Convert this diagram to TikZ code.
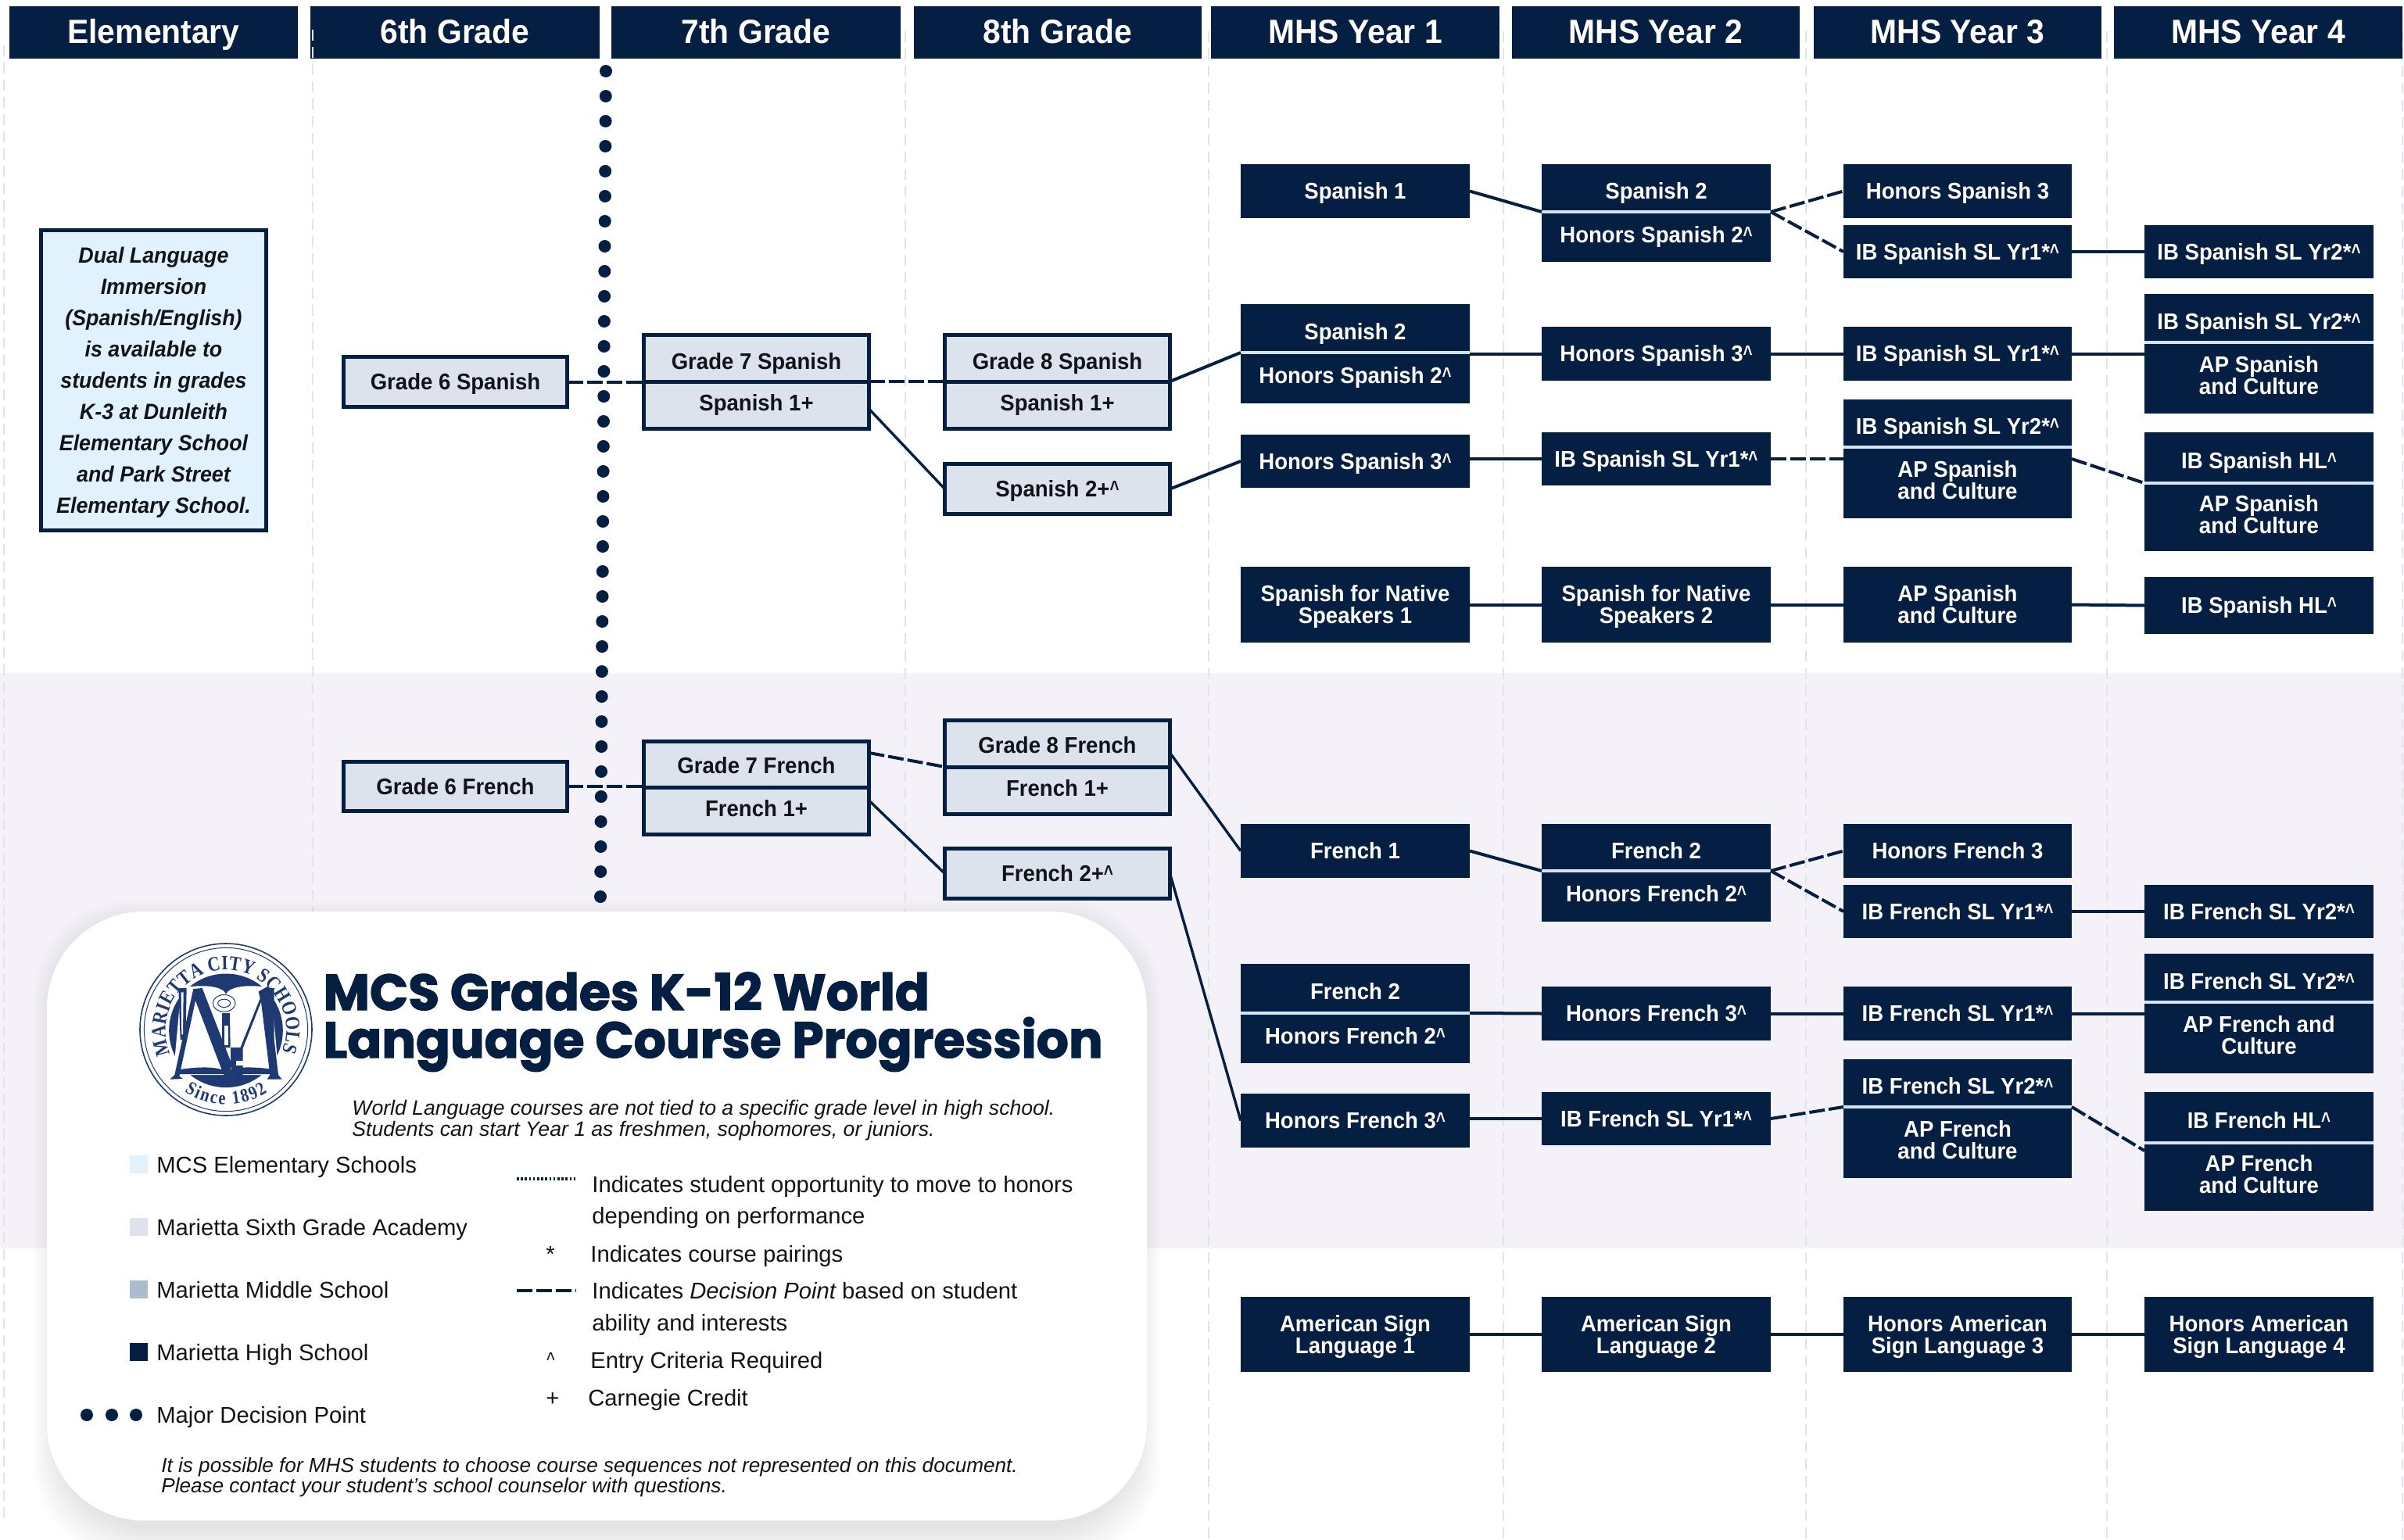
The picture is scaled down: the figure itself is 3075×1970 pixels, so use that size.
\documentclass[tikz,border=0pt]{standalone}
\usepackage{fontspec}
\setmainfont{Liberation Sans}
\newfontfamily\boxfont{Liberation Sans}[FakeStretch=0.95]
\newfontfamily\legfont{Liberation Sans}
\newfontfamily\titlefont{Poppins}[FakeBold=2]
\newfontfamily\sealfont{Liberation Serif}[FakeStretch=0.85]
\usetikzlibrary{decorations.text,calc}
\definecolor{navy}{HTML}{041F42}
\definecolor{band}{HTML}{F4F1F8}
\definecolor{gridc}{HTML}{DFE4EF}
\definecolor{lightbox}{HTML}{DCE3ED}
\definecolor{elembox}{HTML}{E1F1FE}
\definecolor{midbox}{HTML}{ADBCCD}
\definecolor{divc}{HTML}{D3E4F5}
\definecolor{seal}{HTML}{1F3A73}
\definecolor{inkc}{HTML}{111318}
\newdimen\pxunit \pxunit=0.5pt
\newcommand\ca{\raisebox{0.03em}{\scalebox{0.75}[0.95]{\textasciicircum}}}
\newcommand\tl[2][0]{\raisebox{#1\pxunit}[0.711em][0pt]{#2}}
\newcommand\ta[1]{\tl[-4]{#1}}
\newcommand\tb[1]{\tl[3]{#1}}
\newcommand\course[7][coursedark]{%
  \pgfmathsetmacro\cwid{(#5-#3)*0.5}\pgfmathsetmacro\chei{(#6-#4)*0.5}%
  \pgfmathsetmacro\ccx{(#5+#3)/2}\pgfmathsetmacro\ccy{(#6+#4)/2}%
  \node[#1,minimum width=\cwid pt,minimum height=\chei pt] (#2) at (\ccx,\ccy) {#7};}
\newcommand\twopart[8]{%
  \course{#1}{#2}{#4}{#3}{#5}{#7}%
  \course{#1b}{#2}{#5}{#3}{#6}{#8}%
  \draw[divider] (#1.south west) -- (#1.south east);}
\tikzset{
  basebox/.style={inner sep=0pt,outer sep=0pt,align=center},
  coursedark/.style={basebox,fill=navy,text=white,font=\boxfont\bfseries\fontsize{14.5}{14}\selectfont},
  courselight/.style={basebox,fill=lightbox,draw=navy,line width=2.5pt,text=inkc,font=\boxfont\bfseries\fontsize{14.5}{14}\selectfont},
  hdr/.style={basebox,fill=navy,text=white,font=\boxfont\bfseries\fontsize{21.5}{21}\selectfont},
  elem/.style={basebox,fill=elembox,draw=navy,line width=2.5pt,text=inkc,font=\boxfont\bfseries\itshape\fontsize{14.1}{20}\selectfont},
  divider/.style={divc,line width=2pt},
  conn/.style={navy,line width=2pt},
  decision/.style={navy,line width=2pt,dash pattern=on 10pt off 2.5pt},
  gridline/.style={gridc,line width=1pt,dash pattern=on 7pt off 4pt},
  legend/.style={inner sep=0pt,anchor=base west,text=inkc,font=\legfont\fontsize{14.6}{14}\selectfont},
  note/.style={inner sep=0pt,anchor=base west,text=inkc,font=\itshape\fontsize{13.3}{14}\selectfont},
  footnote/.style={note,font=\itshape\fontsize{13.05}{14}\selectfont},
  titletxt/.style={inner sep=0pt,anchor=base west,text=navy,font=\titlefont\bfseries\fontsize{32.4}{30}\selectfont},
  swatch/.style={minimum width=11.5pt,minimum height=11.5pt,inner sep=0pt},
}
\begin{document}
\begin{tikzpicture}[x=0.5pt,y=-0.5pt]
\useasboundingbox (0,0) rectangle (3075,1970);
\fill[white] (0,0) rectangle (3075,1970);
\fill[band] (0,861) rectangle (3075,1597);
% column grid
\draw[gridline] (4.5,58) -- (4.5,1950);
\draw[gridline] (1158,40) -- (1158,1166);
\foreach \gx in {1546,1923,2310,2695,3073}{\draw[gridline] (\gx,40) -- (\gx,1970);}
% major decision dots
\foreach \i in {0,...,33}{\fill[navy] ({775-\i*7/33},{91+\i*32}) circle (4pt);}
% headers
\course[hdr]{h0}{12}{8}{381}{75}{\tl[1.5]{Elementary}}
\course[hdr]{h1}{397}{8}{767}{75}{\tl[1.5]{6th Grade}}
\course[hdr]{h2}{782}{8}{1152}{75}{\tl[1.5]{7th Grade}}
\course[hdr]{h3}{1169}{8}{1537}{75}{\tl[1.5]{8th Grade}}
\course[hdr]{h4}{1549}{8}{1918}{75}{\tl[1.5]{MHS Year 1}}
\course[hdr]{h5}{1934}{8}{2302}{75}{\tl[1.5]{MHS Year 2}}
\course[hdr]{h6}{2320}{8}{2688}{75}{\tl[1.5]{MHS Year 3}}
\course[hdr]{h7}{2704}{8}{3073}{75}{\tl[1.5]{MHS Year 4}}
\draw[gridline] (400,38) -- (400,1166);
% elementary box
\course[elem]{dual}{52.5}{294.5}{340.5}{678.5}{\tl{Dual Language}\\\tl{Immersion}\\\tl{(Spanish/English)}\\\tl{is available to}\\\tl{students in grades}\\\tl{K-3 at Dunleith}\\\tl{Elementary School}\\\tl{and Park Street}\\\tl{Elementary School.}}
% Spanish, grades 6-8
\course[courselight]{gsix}{439.5}{456.5}{725.5}{520.5}{\tl{Grade 6 Spanish}}
\course[courselight]{gseven}{823.5}{428.5}{1111.5}{488}{\ta{Grade 7 Spanish}}
\course[courselight]{gsevenb}{823.5}{488}{1111.5}{548.5}{\tb{Spanish 1+}}
\course[courselight]{geight}{1208.5}{428.5}{1496.5}{488}{\ta{Grade 8 Spanish}}
\course[courselight]{geightb}{1208.5}{488}{1496.5}{548.5}{\tb{Spanish 1+}}
\course[courselight]{sptwoplus}{1208.5}{593.5}{1496.5}{657.5}{\tl{Spanish 2+\ca}}
% Spanish, high school
\course{sone}{1587}{210}{1880}{279}{\tl{Spanish 1}}
\twopart{stwoa}{1587}{1880}{389}{451}{516}{\ta{Spanish 2}}{\tb{Honors Spanish 2\ca}}
\course{hsthreea}{1587}{556}{1880}{624}{\tl{Honors Spanish 3\ca}}
\course{nsa}{1587}{725}{1880}{822}{\tl{Spanish for Native}\\\tl{Speakers 1}}
\twopart{stwob}{1972}{2265}{210}{271}{335}{\ta{Spanish 2}}{\tb{Honors Spanish 2\ca}}
\course{hsthreeb}{1972}{418}{2265}{487}{\tl{Honors Spanish 3\ca}}
\course{ibsb}{1972}{553}{2265}{621}{\tl{IB Spanish SL Yr1*\ca}}
\course{nsb}{1972}{725}{2265}{822}{\tl{Spanish for Native}\\\tl{Speakers 2}}
\course{hsthreec}{2358}{210}{2650}{279}{\tl{Honors Spanish 3}}
\course{ibsc}{2358}{288}{2650}{356}{\tl{IB Spanish SL Yr1*\ca}}
\course{ibsd}{2358}{418}{2650}{487}{\tl{IB Spanish SL Yr1*\ca}}
\twopart{ibse}{2358}{2650}{511}{572}{663}{\ta{IB Spanish SL Yr2*\ca}}{\tb{AP Spanish}\\\tb{and Culture}}
\course{apsc}{2358}{725}{2650}{822}{\tl{AP Spanish}\\\tl{and Culture}}
\course{ibsf}{2743}{288}{3036}{356}{\tl{IB Spanish SL Yr2*\ca}}
\twopart{ibsg}{2743}{3036}{376}{438}{529}{\ta{IB Spanish SL Yr2*\ca}}{\tb{AP Spanish}\\\tb{and Culture}}
\twopart{ibsh}{2743}{3036}{553}{618}{705}{\ta{IB Spanish HL\ca}}{\tb{AP Spanish}\\\tb{and Culture}}
\course{ibsi}{2743}{738}{3036}{811}{\tl{IB Spanish HL\ca}}
% French, grades 6-8
\course[courselight]{fsix}{439.5}{974.5}{725.5}{1037.5}{\tl{Grade 6 French}}
\course[courselight]{fseven}{823.5}{948}{1111.5}{1007}{\tl[-2]{Grade 7 French}}
\course[courselight]{fsevenb}{823.5}{1007}{1111.5}{1067}{\tb{French 1+}}
\course[courselight]{feight}{1208.5}{921.5}{1496.5}{981}{\tl[-2]{Grade 8 French}}
\course[courselight]{feightb}{1208.5}{981}{1496.5}{1041.5}{\tb{French 1+}}
\course[courselight]{ftwoplus}{1208.5}{1085.5}{1496.5}{1149.5}{\tl{French 2+\ca}}
% French, high school
\course{fone}{1587}{1054}{1880}{1123}{\tl{French 1}}
\twopart{ftwoa}{1587}{1880}{1233}{1296}{1360}{\ta{French 2}}{\tb{Honors French 2\ca}}
\course{hfthreea}{1587}{1399}{1880}{1468}{\tl{Honors French 3\ca}}
\twopart{ftwob}{1972}{2265}{1054}{1114}{1179}{\ta{French 2}}{\tb{Honors French 2\ca}}
\course{hfthreeb}{1972}{1262}{2265}{1331}{\tl{Honors French 3\ca}}
\course{ibfb}{1972}{1397}{2265}{1465}{\tl{IB French SL Yr1*\ca}}
\course{hfthreec}{2358}{1054}{2650}{1123}{\tl{Honors French 3}}
\course{ibfc}{2358}{1132}{2650}{1200}{\tl{IB French SL Yr1*\ca}}
\course{ibfd}{2358}{1262}{2650}{1331}{\tl{IB French SL Yr1*\ca}}
\twopart{ibfe}{2358}{2650}{1355}{1416}{1507}{\ta{IB French SL Yr2*\ca}}{\tb{AP French}\\\tb{and Culture}}
\course{ibff}{2743}{1132}{3036}{1200}{\tl{IB French SL Yr2*\ca}}
\twopart{ibfg}{2743}{3036}{1220}{1282}{1373}{\ta{IB French SL Yr2*\ca}}{\tb{AP French and}\\\tb{Culture}}
\twopart{ibfh}{2743}{3036}{1397}{1462}{1549}{\ta{IB French HL\ca}}{\tb{AP French}\\\tb{and Culture}}
% ASL
\course{asla}{1587}{1659}{1880}{1755}{\tl{American Sign}\\\tl{Language 1}}
\course{aslb}{1972}{1659}{2265}{1755}{\tl{American Sign}\\\tl{Language 2}}
\course{aslc}{2358}{1659}{2650}{1755}{\tl{Honors American}\\\tl{Sign Language 3}}
\course{asld}{2743}{1659}{3036}{1755}{\tl{Honors American}\\\tl{Sign Language 4}}
% connectors Spanish
\draw[decision] (gsix.east) -- (gsix.east -| gseven.west);
\draw[decision] (gseven.south east) -- (geight.south west);
\draw[conn] (geight.south east) -- (stwoa.south west);
\draw[conn,line width=1.7pt] ([yshift=-17.5pt]gseven.south east) -- (sptwoplus.west);
\draw[conn] (sptwoplus.east) -- (hsthreea.west);
\draw[conn] (sone.east) -- (stwob.south west);
\draw[decision] (stwob.south east) -- (hsthreec.west);
\draw[decision] (stwob.south east) -- (ibsc.west);
\draw[conn] (ibsc.east) -- (ibsf.west);
\draw[conn] (hsthreeb.west -| stwoa.east) -- (hsthreeb.west);
\draw[conn] (hsthreeb.east) -- (ibsd.west);
\draw[conn] (ibsd.east) -- (ibsd.east -| ibsgb.west);
\draw[conn] (ibsb.west -| hsthreea.east) -- (ibsb.west);
\draw[decision] (ibsb.east) -- (ibsb.east -| ibseb.west);
\draw[decision] (ibsb.east -| ibseb.east) -- (ibsh.south west);
\draw[conn] (nsa.east) -- (nsb.west);
\draw[conn] (nsb.east) -- (apsc.west);
\draw[conn] (apsc.east) -- (ibsi.west);
% connectors French
\draw[decision] (fsix.east) -- (fsix.east -| fseven.west);
\draw[decision] ([yshift=22pt]fseven.south east) -- (feight.south west);
\draw[conn,line width=1.7pt] ([yshift=-8.5pt]fseven.south east) -- (ftwoplus.west);
\draw[conn,line width=1.7pt] ([yshift=9pt]feight.south east) -- (fone.west);
\draw[conn,line width=1.7pt] (ftwoplus.east) -- (hfthreea.west);
\draw[conn] (fone.east) -- (ftwob.south west);
\draw[decision] (ftwob.south east) -- (hfthreec.west);
\draw[decision] (ftwob.south east) -- (ibfc.west);
\draw[conn] (ibfc.east) -- (ibff.west);
\draw[conn] (ftwoa.south east) -- (hfthreeb.west);
\draw[conn] (hfthreeb.east) -- (ibfd.west);
\draw[conn] (ibfd.east) -- (ibfd.east -| ibfgb.west);
\draw[conn] (ibfb.west -| hfthreea.east) -- (ibfb.west);
\draw[decision] (ibfb.east) -- (ibfe.south west);
\draw[decision] (ibfe.south east) -- ([yshift=-5pt]ibfh.south west);
% connectors ASL
\draw[conn] (asla.east) -- (aslb.west);
\draw[conn] (aslb.east) -- (aslc.west);
\draw[conn] (aslc.east) -- (asld.west);
% panel shadow
\foreach \s in {0,...,13}{
  \fill[black,opacity=0.006,rounded corners=62pt] ({75-\s*2.5},{1190-\s*3}) rectangle ({1452+\s*2.5},{1955+\s*3});
}
\fill[white,rounded corners=62pt] (60,1166) rectangle (1467,1945);
% title
\node[titletxt] (titlea) at (413,1292) {MCS Grades K-12 World};
\node[titletxt] (titleb) at (413,1353) {Language Course Progression};
\node[note] (suba) at (450,1426) {World Language courses are not tied to a specific grade level in high school.};
\node[note] (subb) at (450,1453.5) {Students can start Year 1 as freshmen, sophomores, or juniors.};
% legend left
\node[swatch,fill=elembox] (swa) at (177.5,1489) {};
\node[swatch,fill=lightbox] (swb) at (177.5,1569) {};
\node[swatch,fill=midbox] (swc) at (177.5,1649) {};
\node[swatch,fill=navy] (swd) at (177.5,1729) {};
\foreach \lx in {111,143,174}{\fill[navy] (\lx,1810) circle (4pt);}
\node[legend] (la) at (200,1500.5) {MCS Elementary Schools};
\node[legend] (lb) at (200,1580) {Marietta Sixth Grade Academy};
\node[legend] (lc) at (200,1660) {Marietta Middle School};
\node[legend] (ld) at (200,1740) {Marietta High School};
\node[legend] (le) at (200,1820) {Major Decision Point};
% legend right
\draw[navy,line width=2pt,dash pattern=on 1.3pt off 1.3pt] (661,1508) -- (737,1508);
\node[legend] (ra) at (757,1525) {Indicates student opportunity to move to honors};
\node[legend] (raa) at (757,1565.5) {depending on performance};
\node[legend] (rbs) at (698,1614) {*};
\node[legend] (rb) at (755,1614) {Indicates course pairings};
\draw[navy,line width=2pt,dash pattern=on 10pt off 2.5pt] (661,1651) -- (737,1651);
\node[legend] (rc) at (757,1661) {Indicates {\itshape Decision Point} based on student};
\node[legend] (rcc) at (757,1702) {ability and interests};
\node[legend] (rds) at (699,1750) {\ca};
\node[legend] (rd) at (755,1750) {Entry Criteria Required};
\node[legend] (res) at (698,1798) {+};
\node[legend] (re) at (752,1798) {Carnegie Credit};
\node[footnote] (fa) at (206,1883.5) {It is possible for MHS students to choose course sequences not represented on this document.};
\node[footnote] (fb) at (206,1909) {Please contact your student’s school counselor with questions.};
% seal
\begin{scope}[shift={(160,1190)},x=0.16667pt,y=-0.16667pt]
  \draw[seal,line width=0.8pt] (387,381) circle (55pt);
  \draw[seal,line width=0.5pt] (387,381) circle (52.3pt);
  \fill[seal] (387,385) circle (36.4pt);
  % open book
  \fill[white] (215,222) .. controls (300,205) and (375,215) .. (387,245) .. controls (400,215) and (480,205) .. (560,222) -- (590,555) -- (185,555) -- cycle;
  \fill[seal] (205,535) .. controls (300,520) and (370,525) .. (387,545) .. controls (405,525) and (480,520) .. (575,535) -- (575,552) -- (205,552) -- cycle;
  % pillars
  \fill[seal] (205,222) -- (236,222) -- (232,420) -- (212,420) -- cycle;
  \fill[seal] (548,222) -- (572,222) -- (572,470) -- (556,470) -- cycle;
  \fill[white] (215,238) -- (224,238) -- (222,400) -- (217,400) -- cycle;
  % M
  \fill[seal] (262,225) -- (296,222) -- (408,510) -- (398,575) -- (386,575) -- (270,270) -- (208,560) -- (222,570) -- (172,572) -- (190,555) -- cycle;
  \fill[seal] (392,575) -- (518,262) -- (512,235) -- (548,215) -- (588,555) -- (602,572) -- (545,572) -- (556,555) -- (522,275) -- (404,575) -- cycle;
  % key
  \fill[white] (380,280) ellipse (7.2pt and 5.4pt);
  \draw[seal,line width=0.5pt] (380,280) ellipse (7.2pt and 5.4pt);
  \draw[seal,line width=0.5pt] (380,280) ellipse (4pt and 2.6pt);
  \fill[seal] (372,318) -- (402,318) -- (404,450) -- (372,450) -- cycle;
  \fill[white] (380,365) -- (395,365) -- (395,440) -- (380,440) -- cycle;
  \fill[seal] (405,450) -- (452,450) -- (452,565) -- (415,565) -- (405,520) -- cycle;
  \fill[white] (425,500) -- (452,500) -- (452,520) -- (425,520) -- cycle;
\end{scope}
\path[decorate,decoration={text along path,text align=fit to path,
  text={|\sealfont\bfseries\fontsize{13}{14}\selectfont\color{seal}|MARIETTA CITY SCHOOLS}}]
  ([shift={(203:38.6pt)}]289,1318) arc[start angle=203,end angle=-21,radius=38.6pt];
\path[decorate,decoration={text along path,text align=fit to path,
  text={|\sealfont\bfseries\fontsize{12}{14}\selectfont\color{seal}|Since 1892}}]
  ([shift={(236:47.5pt)}]289,1318) arc[start angle=236,end angle=304,radius=47.5pt];
\end{tikzpicture}
\end{document}
